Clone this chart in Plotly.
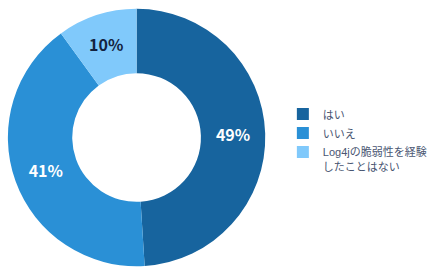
import plotly.graph_objects as go

labels = ["はい", "いいえ", "Log4jの脆弱性を経験<br>したことはない"]
values = [49, 41, 10]
colors = ["#17649e", "#2a90d6", "#80c9fb"]
text_colors = ["#ffffff", "#ffffff", "#13223f"]

fig = go.Figure(
    go.Pie(
        labels=labels,
        values=values,
        hole=0.5,
        sort=False,
        direction="clockwise",
        rotation=0,
        marker=dict(colors=colors, line=dict(width=0)),
        textinfo="percent",
        texttemplate="%{percent:.0%}",
        textposition="inside",
        insidetextorientation="horizontal",
        insidetextfont=dict(family="Noto Sans CJK JP", size=16, color=text_colors, weight="bold"),
        domain=dict(x=[8 / 432, 269 / 432], y=[1 - 269 / 277, 1 - 6 / 277]),
        hoverinfo="label+percent",
    )
)

fig.update_layout(
    width=432,
    height=277,
    margin=dict(l=0, r=0, t=0, b=0),
    paper_bgcolor="white",
    plot_bgcolor="white",
    showlegend=True,
    legend=dict(
        x=0.664,
        xanchor="left",
        y=0.638,
        yanchor="top",
        valign="top",
        font=dict(family="Liberation Sans, Noto Sans CJK JP", size=11, color="#4a5672"),
        bgcolor="rgba(0,0,0,0)",
        tracegroupgap=0,
    ),
)

fig.write_html("out.html")
